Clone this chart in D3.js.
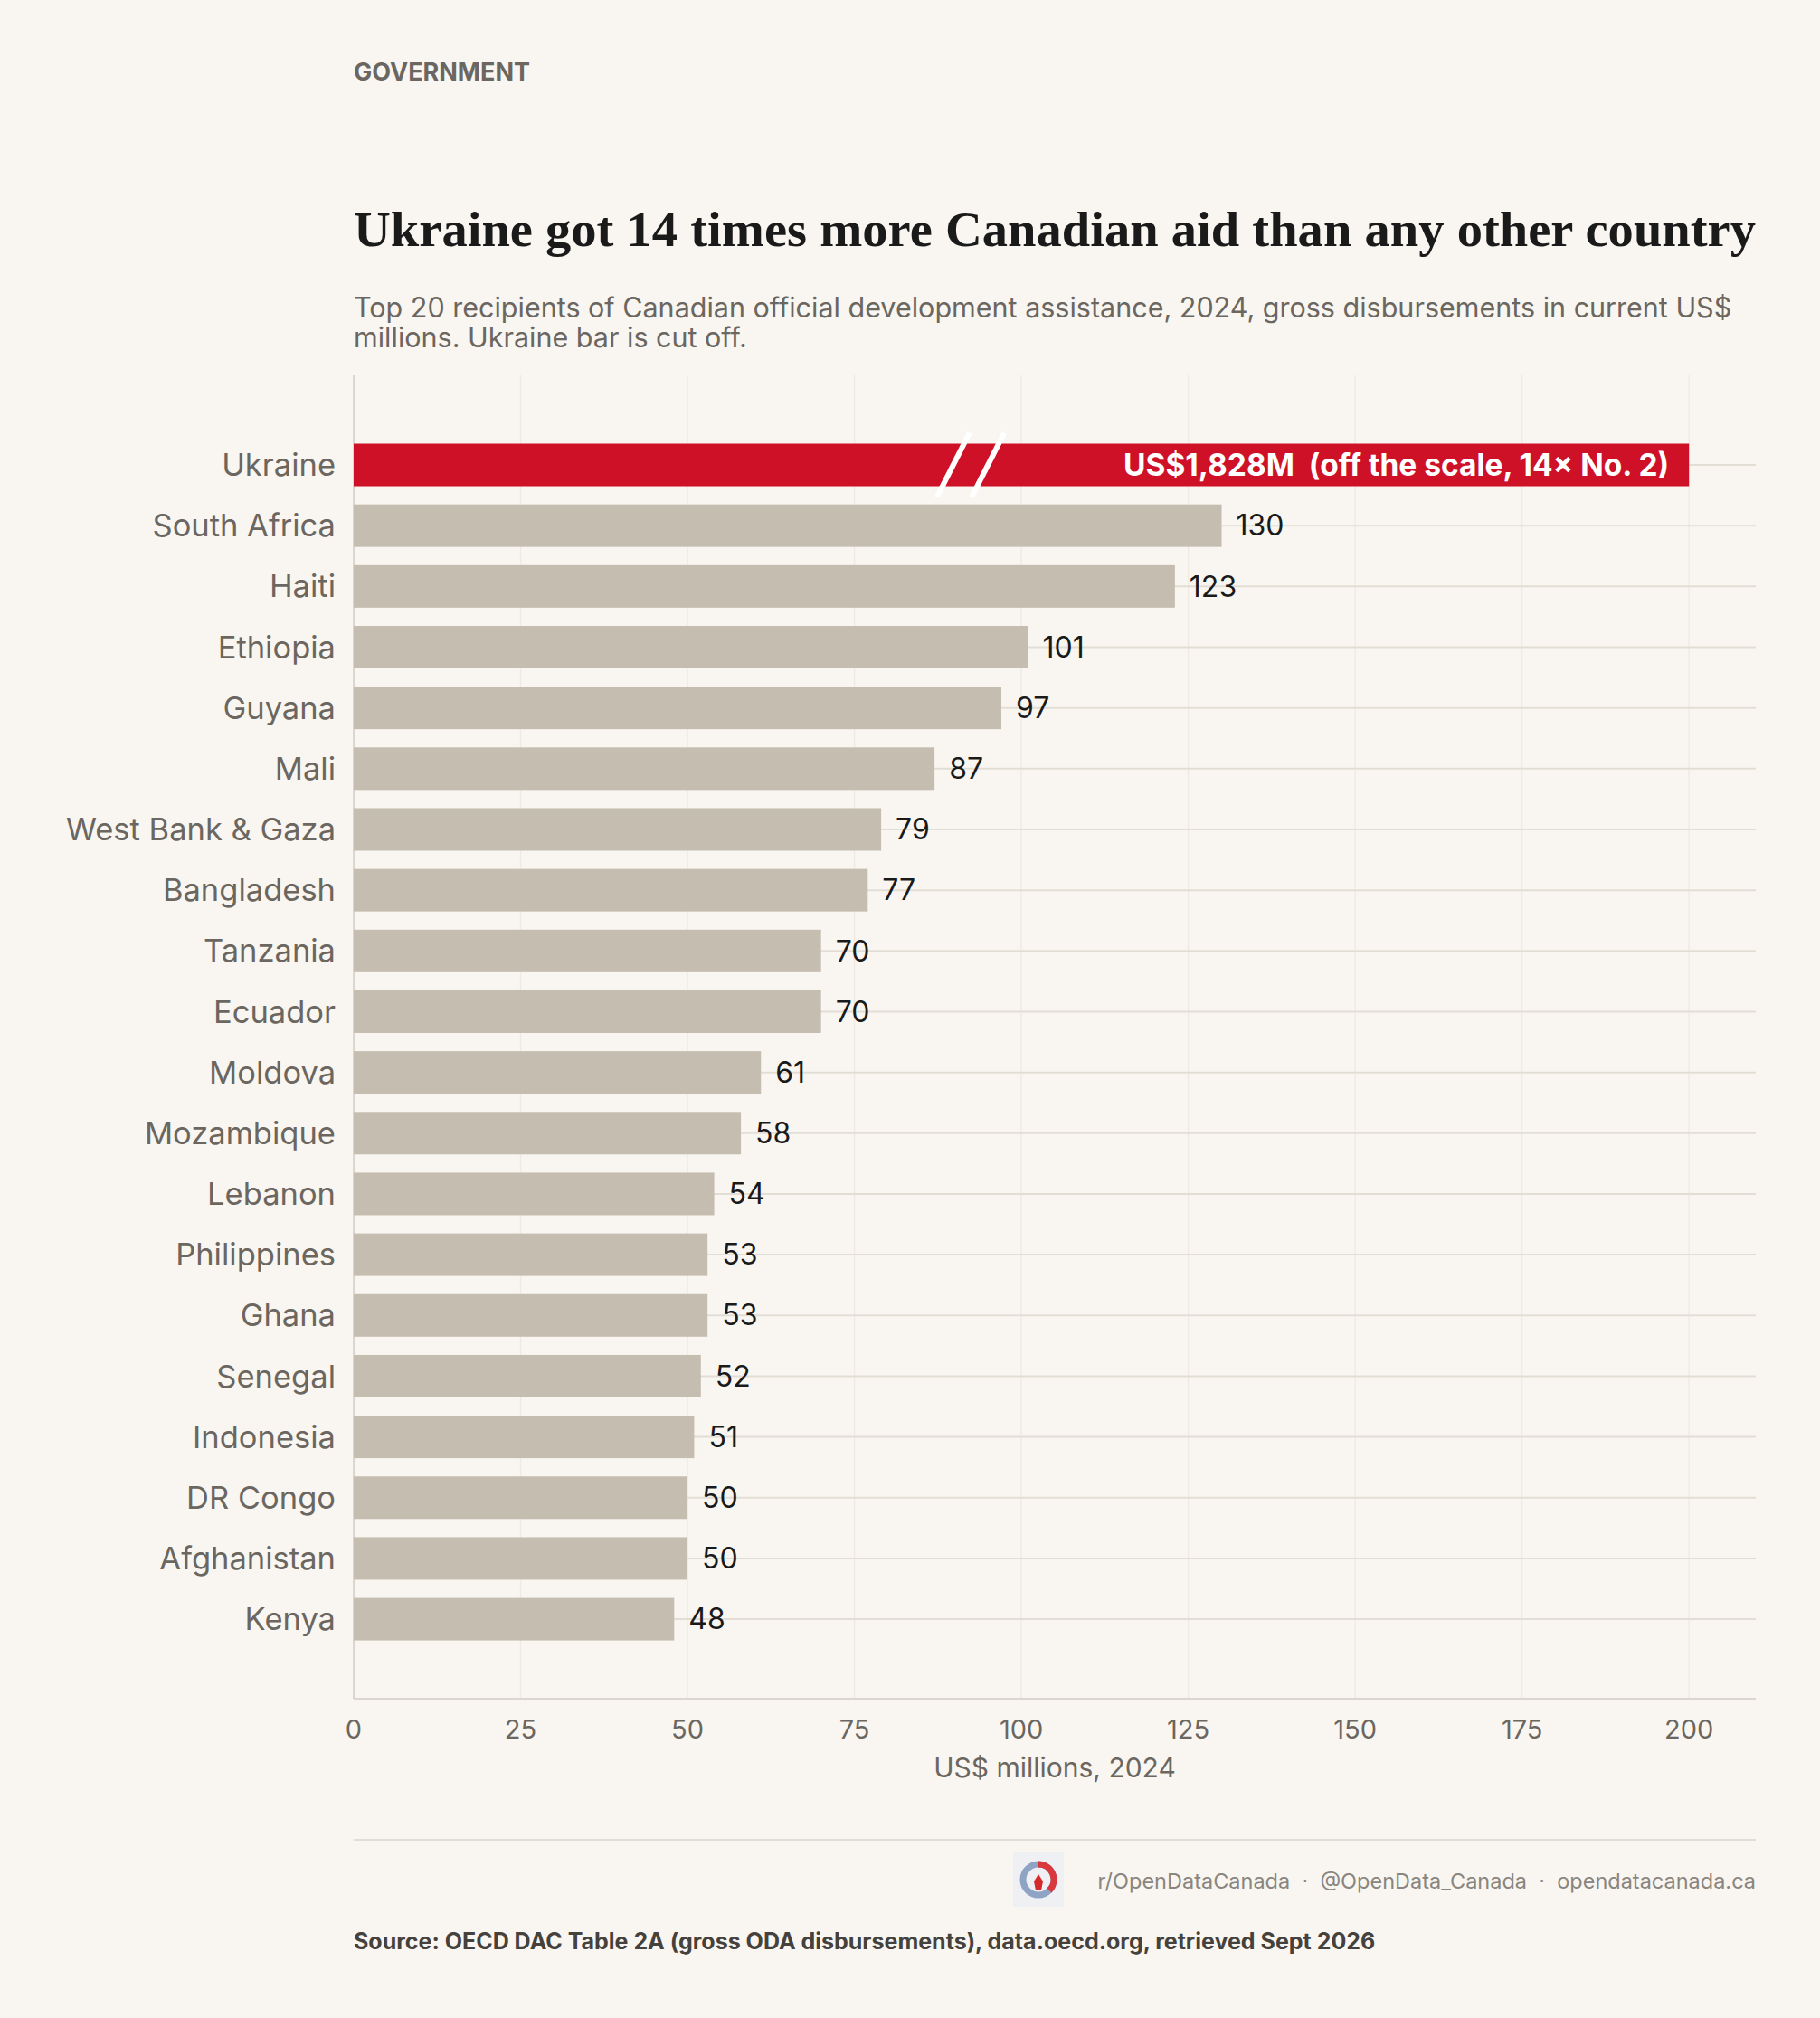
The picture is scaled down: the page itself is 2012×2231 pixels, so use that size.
<!DOCTYPE html>
<html><head><meta charset="utf-8">
<script src="https://cdn.jsdelivr.net/npm/d3@7"></script>
<style>body{margin:0;background:#f9f6f1}svg{display:block}</style>
</head><body><svg id="chart" width="2012" height="2231"></svg>
<script>
// data
const countries = ["Ukraine","South Africa","Haiti","Ethiopia","Guyana","Mali","West Bank & Gaza","Bangladesh","Tanzania","Ecuador","Moldova","Mozambique","Lebanon","Philippines","Ghana","Senegal","Indonesia","DR Congo","Afghanistan","Kenya"];
const values = [1828,130,123,101,97,87,79,77,70,70,61,58,54,53,53,52,51,50,50,48];
const xTicks = [0,25,50,75,100,125,150,175,200];
const cap = 200;

const svg = d3.select("#chart");
const plotLeft = 391, plotRight = 1941, plotTop = 415, plotBottom = 1878;
const font = "Inter, 'Noto Sans', sans-serif";

svg.append("rect").attr("width",2012).attr("height",2231).attr("fill","#f9f6f1");

const x = d3.scaleLinear().domain([0,210]).range([plotLeft,plotRight]);
const y = d3.scaleBand().domain(countries).range([490.5,1813.6]).paddingInner(0.3).paddingOuter(0);

// headings
svg.append("text").attr("x",plotLeft).attr("y",89).text("GOVERNMENT")
  .attr("font-family",font).attr("font-weight",700).attr("font-size",27).attr("fill","#6b6660");
svg.append("text").attr("x",plotLeft).attr("y",272).text("Ukraine got 14 times more Canadian aid than any other country")
  .attr("font-family","'Liberation Serif', serif").attr("font-weight",700).attr("font-size",54).attr("fill","#1a1a1a")
  .attr("textLength",1550).attr("lengthAdjust","spacingAndGlyphs");
const sub = svg.append("text").attr("font-family",font).attr("font-size",30.5).attr("fill","#6b6660");
sub.append("tspan").attr("x",plotLeft).attr("y",351).text("Top 20 recipients of Canadian official development assistance, 2024, gross disbursements in current US$");
sub.append("tspan").attr("x",plotLeft).attr("y",384).text("millions. Ukraine bar is cut off.");

// grid
svg.append("g").selectAll("line").data(xTicks).join("line")
  .attr("x1",d=>x(d)).attr("x2",d=>x(d)).attr("y1",plotTop).attr("y2",plotBottom)
  .attr("stroke","#efebe4").attr("stroke-width",1.5);
svg.append("g").selectAll("line").data(countries).join("line")
  .attr("x1",plotLeft).attr("x2",plotRight).attr("y1",d=>y(d)+y.bandwidth()/2).attr("y2",d=>y(d)+y.bandwidth()/2)
  .attr("stroke","#e3ded5").attr("stroke-width",2);
svg.append("line").attr("x1",plotLeft).attr("x2",plotLeft).attr("y1",plotTop).attr("y2",plotBottom).attr("stroke","#dcd7ce").attr("stroke-width",2);
svg.append("line").attr("x1",plotLeft).attr("x2",plotRight).attr("y1",plotBottom).attr("y2",plotBottom).attr("stroke","#dcd7ce").attr("stroke-width",2);

// bars
svg.append("g").selectAll("rect").data(countries).join("rect")
  .attr("x",x(0)).attr("y",d=>y(d)).attr("height",y.bandwidth())
  .attr("width",(d,i)=>x(Math.min(values[i],cap))-x(0))
  .attr("fill",(d,i)=>i===0?"#ce1126":"#c5bdb0");

// value labels
svg.append("g").selectAll("text").data(countries.slice(1)).join("text")
  .attr("x",(d,i)=>x(values[i+1])+16).attr("y",d=>y(d)+y.bandwidth()/2).attr("dy","0.35em")
  .text((d,i)=>values[i+1]).attr("font-family",font).attr("font-size",32).attr("fill","#1a1a1a");

// break marks on Ukraine bar
const yu = y("Ukraine"), bh = y.bandwidth();
[89.8,95].forEach(v=>{
  svg.append("line").attr("x1",x(v)-18).attr("y1",yu+bh+12).attr("x2",x(v)+18).attr("y2",yu-12)
    .attr("stroke","#fff").attr("stroke-width",6);
});
svg.append("text").attr("x",x(cap)-22).attr("y",yu+bh/2).attr("dy","0.36em").attr("text-anchor","end")
  .text("US$1,828M  (off the scale, 14× No. 2)").attr("font-family",font).attr("font-weight",700)
  .attr("font-size",33.5).attr("fill","#fff").style("white-space","pre");

// y labels
svg.append("g").selectAll("text").data(countries).join("text")
  .attr("x",plotLeft-20).attr("y",d=>y(d)+y.bandwidth()/2).attr("dy","0.35em").attr("text-anchor","end")
  .text(d=>d).attr("font-family",font).attr("font-size",34.5).attr("fill","#6b6660");

// x axis
svg.append("g").selectAll("text").data(xTicks).join("text")
  .attr("x",d=>x(d)).attr("y",1922).attr("text-anchor","middle").text(d=>d)
  .attr("font-family",font).attr("font-size",29).attr("fill","#6b6660");
svg.append("text").attr("x",(x(0)+x(210))/2).attr("y",1965).attr("text-anchor","middle")
  .text("US$ millions, 2024").attr("font-family",font).attr("font-size",30).attr("fill","#6b6660");

// footer
svg.append("line").attr("x1",plotLeft).attr("x2",plotRight).attr("y1",2034).attr("y2",2034).attr("stroke","#e3ded5").attr("stroke-width",2);
const logo = svg.append("g").attr("transform","translate(1148,2078)");
logo.append("rect").attr("x",-28).attr("y",-30).attr("width",56).attr("height",60).attr("fill","#eef0f4");
logo.append("circle").attr("r",17).attr("fill","none").attr("stroke","#8fa3c4").attr("stroke-width",7);
logo.append("path").attr("d","M0,-17 A17,17 0 0,1 12,12").attr("fill","none").attr("stroke","#d9383c").attr("stroke-width",7);
logo.append("path").attr("d","M-5,2 L0,-6 L5,2 L3,12 L-3,12 Z").attr("fill","#d42a2a");
svg.append("text").attr("x",plotRight).attr("y",2088).attr("text-anchor","end")
  .text("r/OpenDataCanada  ·  @OpenData_Canada  ·  opendatacanada.ca").style("white-space","pre")
  .attr("font-family",font).attr("font-size",23.5).attr("fill","#8a857e");
svg.append("text").attr("x",plotLeft).attr("y",2155)
  .text("Source: OECD DAC Table 2A (gross ODA disbursements), data.oecd.org, retrieved Sept 2026")
  .attr("font-family",font).attr("font-weight",700).attr("font-size",25).attr("fill","#45413c");
</script></body></html>
